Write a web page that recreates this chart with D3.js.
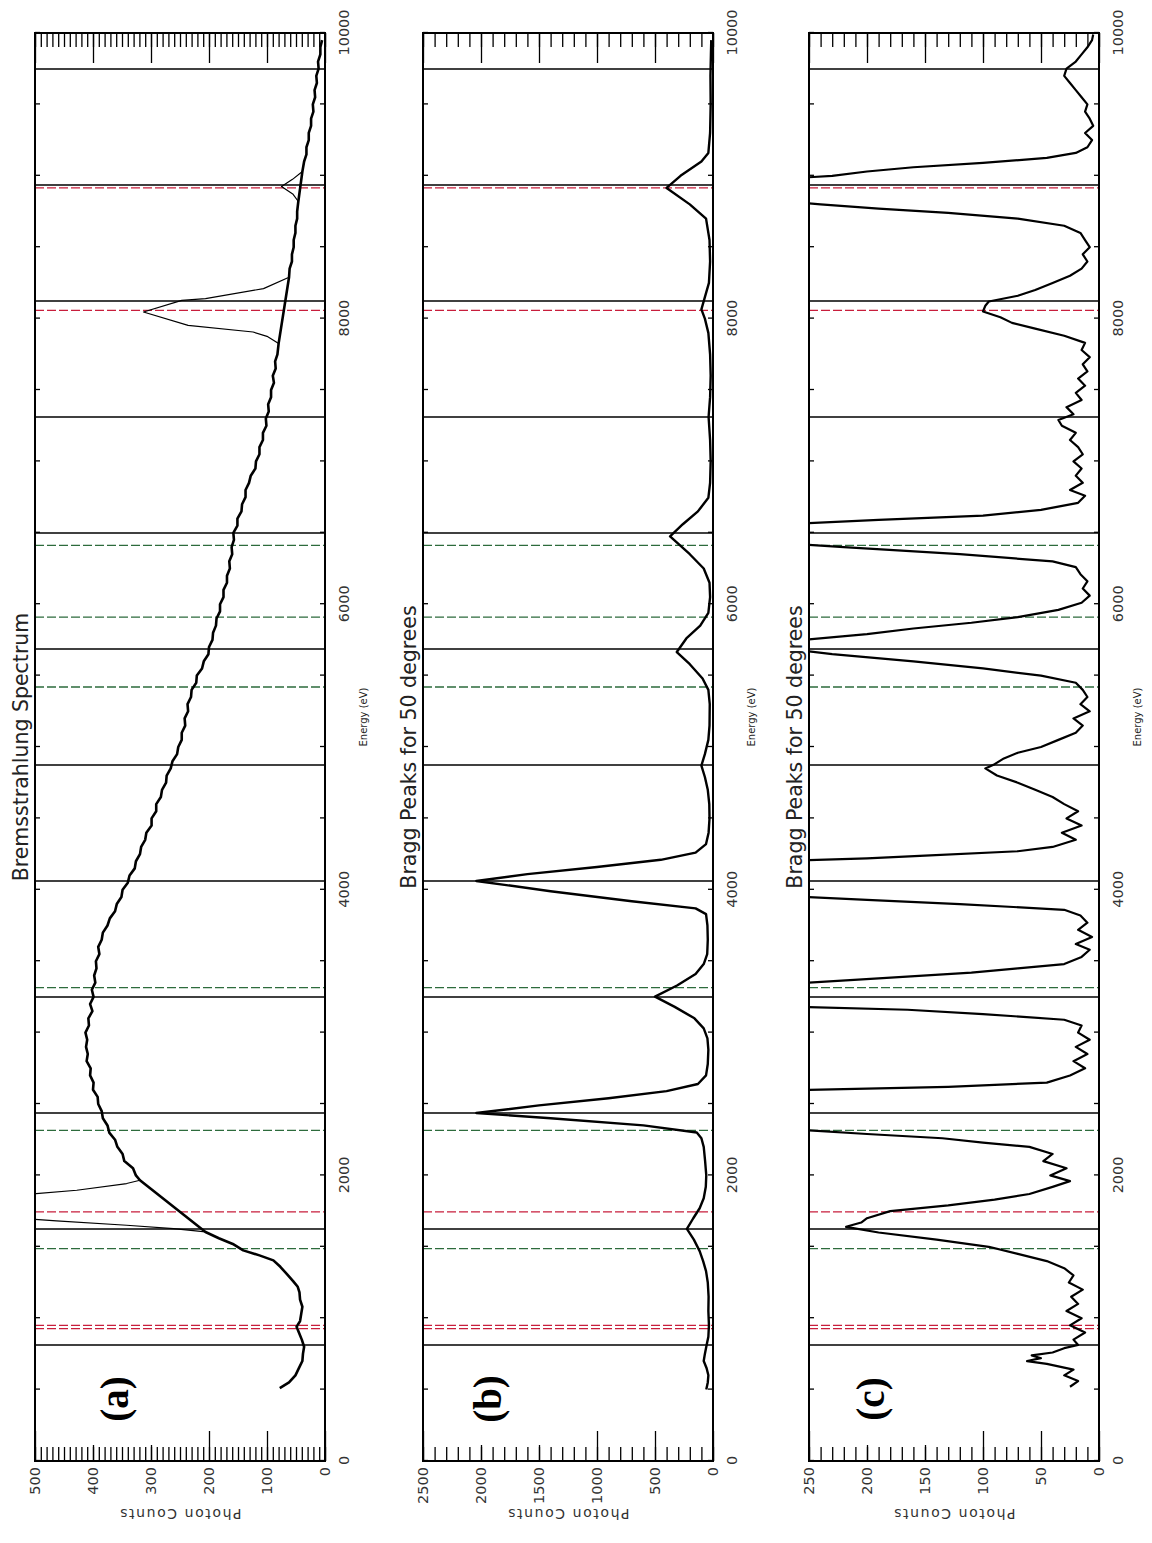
<!DOCTYPE html>
<html>
<head>
<meta charset="utf-8">
<script src="https://cdn.jsdelivr.net/npm/d3@7"></script>
<style>
body { margin: 0; background: #fff; }
svg { display: block; }
</style>
</head>
<body>
<svg id="chart" width="1152" height="1543"></svg>
<script>
// energy axis (eV)
var energyLabelTicks = [0, 2000, 4000, 6000, 8000, 10000];
var energyMinorTicks = d3.range(0, 10001, 500);

// photon count ticks for each panel
var countTicksA = [0, 100, 200, 300, 400, 500];
var countTicksB = [0, 500, 1000, 1500, 2000, 2500];
var countTicksC = [0, 50, 100, 150, 200, 250];

// marker lines (eV)
var braggLines = [812, 1625, 2437, 3249, 4062, 4874, 5686, 6498, 7311, 8123, 8935, 9748];
var greenLines = [1487, 2316, 3315, 5420, 5910, 6412];
var redLines = [927, 950, 1744, 8058, 8915];

// (a) bremsstrahlung continuum [eV, counts]
var bremsCont = [[510,78],[550,62],[600,51],[650,45],[700,39],[750,38],[800,36],[850,40],[900,45],[940,49],[980,43],[1030,41],[1080,39],[1130,43],[1180,44],[1220,47],[1260,55],[1310,66],[1360,77],[1405,89],[1440,113],[1475,141],[1520,159],[1560,183],[1604,206],[1966,319],[2000,326],[2050,331],[2100,346],[2150,349],[2200,358],[2250,362],[2300,372],[2350,375],[2400,383],[2450,385],[2500,391],[2550,392],[2600,400],[2650,399],[2700,405],[2750,404],[2800,411],[2850,409],[2900,412],[2950,410],[3000,413],[3050,407],[3100,408],[3150,401],[3200,405],[3250,399],[3300,402],[3350,396],[3400,398],[3450,394],[3500,395],[3550,389],[3600,391],[3650,385],[3700,383],[3750,375],[3800,371],[3850,362],[3900,359],[3950,351],[4000,349],[4050,340],[4100,337],[4150,328],[4200,326],[4250,319],[4300,317],[4350,310],[4400,308],[4450,299],[4500,299],[4550,291],[4600,291],[4650,283],[4700,281],[4750,274],[4800,273],[4850,266],[4900,263],[4950,255],[5000,253],[5050,247],[5100,247],[5150,241],[5200,242],[5250,236],[5300,237],[5350,231],[5400,230],[5450,222],[5500,221],[5550,212],[5600,209],[5650,201],[5700,200],[5750,194],[5800,193],[5850,188],[5900,187],[5950,181],[6000,181],[6050,175],[6100,175],[6150,169],[6200,169],[6250,164],[6300,165],[6350,160],[6400,161],[6450,157],[6500,158],[6550,151],[6600,151],[6650,144],[6700,143],[6750,137],[6800,137],[6850,131],[6900,128],[6950,120],[7000,119],[7050,113],[7100,113],[7150,107],[7200,107],[7250,101],[7300,102],[7350,97],[7400,98],[7450,93],[7500,93],[7550,88],[7600,90],[7650,85],[7700,86],[7750,82],[7825,80],[8290,62],[8350,61],[8400,57],[8450,57],[8500,54],[8550,54],[8600,51],[8650,51],[8700,48],[8750,48],[8820,46],[9030,39],[9100,36],[9150,32],[9200,32],[9250,28],[9300,28],[9350,24],[9400,24],[9450,20],[9500,21],[9550,17],[9600,18],[9650,14],[9700,15],[9750,11],[9800,12],[9850,8],[9900,8],[9950,5]];

// (a) characteristic peaks on top of the continuum
var peakSi = [[1604,206],[1627,261],[1651,342],[1681,463],[1782,820],[1873,498],[1896,428],[1943,342],[1966,319]];
var peakCuKa = [[7825,80],[7876,100],[7906,124],[7953,236],[8046,313],[8128,247],[8140,206],[8210,106],[8290,62]];
var peakCuKb = [[8820,46],[8870,55],[8925,75],[8975,56],[9030,39]];

// (b) Bragg peaks, counts
var braggB = [[500,58],[550,45],[600,40],[650,55],[700,80],[750,70],[812,55],[870,40],[950,35],[1050,40],[1150,38],[1250,45],[1330,60],[1400,85],[1470,115],[1550,165],[1625,225],[1700,170],[1770,115],[1840,80],[1920,62],[2000,58],[2100,68],[2200,80],[2260,100],[2300,140],[2350,600],[2400,1400],[2437,2040],[2490,1500],[2540,900],[2590,400],[2640,130],[2700,60],[2780,45],[2880,40],[2960,48],[3030,80],[3100,160],[3180,330],[3252,500],[3330,310],[3410,150],[3480,80],[3550,50],[3650,45],[3750,48],[3830,60],[3870,150],[3920,700],[3990,1400],[4062,2040],[4110,1600],[4160,1000],[4210,450],[4260,150],[4320,60],[4400,38],[4500,30],[4600,32],[4700,45],[4790,70],[4870,100],[4950,70],[5050,40],[5150,30],[5300,28],[5400,40],[5480,90],[5580,200],[5665,312],[5760,230],[5850,110],[5940,40],[6050,25],[6150,30],[6250,80],[6350,200],[6475,370],[6560,260],[6650,130],[6745,40],[6850,25],[7000,20],[7150,25],[7311,38],[7450,25],[7600,20],[7750,25],[7900,40],[8000,70],[8065,100],[8150,70],[8250,35],[8400,25],[8550,30],[8700,60],[8800,200],[8915,400],[9000,280],[9100,100],[9160,40],[9300,25],[9500,20],[9700,22],[9850,18],[9950,15]];

// (c) Bragg peaks, low count run
var braggC = [[520,25],[560,18],[600,30],[640,22],[680,45],[700,62],[720,50],[740,58],[760,40],[790,30],[812,18],[850,22],[900,12],[950,25],[1000,15],[1050,28],[1100,18],[1150,24],[1200,14],[1250,26],[1300,22],[1350,30],[1400,45],[1450,70],[1500,95],[1550,140],[1600,190],[1640,218],[1670,205],[1700,200],[1750,180],[1790,130],[1830,90],[1870,60],[1920,40],[1960,25],[2000,42],[2050,28],[2100,48],[2150,40],[2200,60],[2230,100],[2260,135],[2290,200],[2320,260],[2350,600],[2437,900],[2560,700],[2600,240],[2620,130],[2650,45],[2700,25],[2750,12],[2800,22],[2850,10],[2900,20],[2950,8],[3000,18],[3050,15],[3090,30],[3130,100],[3160,165],[3180,260],[3250,600],[3340,270],[3380,190],[3420,110],[3450,70],[3480,30],[3530,15],[3580,8],[3620,20],[3670,6],[3720,18],[3770,10],[3820,16],[3860,30],[3900,120],[3930,200],[3960,280],[4062,600],[4200,280],[4220,200],[4240,150],[4270,70],[4300,40],[4350,20],[4400,32],[4450,15],[4500,28],[4550,18],[4600,30],[4650,40],[4700,55],[4750,70],[4800,88],[4850,98],[4880,90],[4920,82],[4960,70],[5000,50],[5050,35],[5100,20],[5150,14],[5200,22],[5250,8],[5300,16],[5350,10],[5400,14],[5450,20],[5500,50],[5550,100],[5600,160],[5650,230],[5690,270],[5740,270],[5790,200],[5830,160],[5870,110],[5910,70],[5960,35],[6010,15],[6060,8],[6110,14],[6160,10],[6210,16],[6260,20],[6300,40],[6350,120],[6400,220],[6430,280],[6500,600],[6560,270],[6590,190],[6620,100],[6660,50],[6710,18],[6760,12],[6800,25],[6850,14],[6900,20],[6950,15],[7000,22],[7050,14],[7100,18],[7150,25],[7200,20],[7250,32],[7290,35],[7330,22],[7380,28],[7430,15],[7480,20],[7530,12],[7580,18],[7630,10],[7680,14],[7730,8],[7780,15],[7830,12],[7880,30],[7930,55],[7970,75],[8010,85],[8050,100],[8090,98],[8120,95],[8160,70],[8200,55],[8250,40],[8300,25],[8350,15],[8400,10],[8450,14],[8500,8],[8550,12],[8600,16],[8650,30],[8700,70],[8740,130],[8770,190],[8800,240],[8830,280],[8935,600],[8975,280],[9000,230],[9030,200],[9060,160],[9090,100],[9125,45],[9160,20],[9200,10],[9250,6],[9300,12],[9350,5],[9400,8],[9450,12],[9500,10],[9550,15],[9600,20],[9650,25],[9700,30],[9750,28],[9800,20],[9850,15],[9900,10],[9950,6],[9990,5]];

var W = 1152, H = 1543;
var svg = d3.select("#chart");

// the whole figure is drawn landscape and turned a quarter turn
var g = svg.append("g").attr("transform", "translate(0," + H + ") rotate(-90)");

var x = d3.scaleLinear().domain([0, 10000]).range([82, 1510]);
var xMid = (x.range()[0] + x.range()[1]) / 2;

var panels = [
  {top: 35,  bottom: 325,  ticks: countTicksA, minor: 10,  title: "Bremsstrahlung Spectrum",
   tag: "(a)", tagY: 128, series: [bremsCont, peakSi, peakCuKa, peakCuKb], widths: [2.6, 1.2, 1.2, 1.2]},
  {top: 423, bottom: 713,  ticks: countTicksB, minor: 100, title: "Bragg Peaks for 50 degrees",
   tag: "(b)", tagY: 501, series: [braggB], widths: [2.4]},
  {top: 809, bottom: 1099, ticks: countTicksC, minor: 10,  title: "Bragg Peaks for 50 degrees",
   tag: "(c)", tagY: 884, series: [braggC], widths: [2.2]}
];

var font = "'DejaVu Sans', sans-serif";

function styleAxis(sel) {
  sel.select(".domain").remove();
  sel.selectAll("line").attr("stroke", "#000").attr("stroke-width", 1.3);
  sel.selectAll("text").attr("font-family", font).attr("font-size", 14.5).attr("fill", "#333");
}

panels.forEach(function(p, i) {
  var cmax = p.ticks[p.ticks.length - 1];
  var y = d3.scaleLinear().domain([0, cmax]).range([p.bottom, p.top]);
  var pg = g.append("g");

  pg.append("clipPath").attr("id", "clip" + i)
    .append("rect")
      .attr("x", x(0)).attr("y", p.top)
      .attr("width", x(10000) - x(0)).attr("height", p.bottom - p.top);

  // solid Bragg order lines
  pg.selectAll(".bragg").data(braggLines).enter().append("line")
      .attr("x1", function(d) { return x(d); }).attr("x2", function(d) { return x(d); })
      .attr("y1", p.top).attr("y2", p.bottom)
      .attr("stroke", "#000").attr("stroke-width", 1.5);

  // element lines
  pg.selectAll(".green").data(greenLines).enter().append("line")
      .attr("x1", function(d) { return x(d); }).attr("x2", function(d) { return x(d); })
      .attr("y1", p.top).attr("y2", p.bottom)
      .attr("stroke", "#2d6b3c").attr("stroke-width", 1.3).attr("stroke-dasharray", "9,3");
  pg.selectAll(".red").data(redLines).enter().append("line")
      .attr("x1", function(d) { return x(d); }).attr("x2", function(d) { return x(d); })
      .attr("y1", p.top).attr("y2", p.bottom)
      .attr("stroke", "#c81e3c").attr("stroke-width", 1.3).attr("stroke-dasharray", "9,3");

  var line = d3.line()
      .x(function(d) { return x(d[0]); })
      .y(function(d) { return y(d[1]); });

  p.series.forEach(function(s, k) {
    pg.append("path")
        .datum(s)
        .attr("clip-path", "url(#clip" + i + ")")
        .attr("fill", "none")
        .attr("stroke", "#000")
        .attr("stroke-width", p.widths[k])
        .attr("stroke-linejoin", "round")
        .attr("d", line);
  });

  // energy ticks on both long edges
  pg.append("g").attr("transform", "translate(0," + p.bottom + ")")
      .call(d3.axisBottom(x).tickValues(energyMinorTicks).tickSize(-5).tickFormat(""))
      .call(styleAxis);
  pg.append("g").attr("transform", "translate(0," + p.top + ")")
      .call(d3.axisTop(x).tickValues(energyMinorTicks).tickSize(-5).tickFormat(""))
      .call(styleAxis);
  pg.append("g").attr("transform", "translate(0," + p.bottom + ")")
      .call(d3.axisBottom(x).tickValues(energyLabelTicks).tickSize(0).tickPadding(14)
            .tickFormat(d3.format("d")))
      .call(styleAxis);

  // count ticks on both short edges
  var minors = d3.range(0, cmax + 0.001, p.minor);
  [[d3.axisLeft, x(0)], [d3.axisRight, x(10000)]].forEach(function(a, j) {
    pg.append("g").attr("transform", "translate(" + a[1] + ",0)")
        .call(a[0](y).tickValues(minors).tickSize(-14).tickFormat(""))
        .call(styleAxis);
    pg.append("g").attr("transform", "translate(" + a[1] + ",0)")
        .call(a[0](y).tickValues(p.ticks).tickSize(-30).tickPadding(6)
              .tickFormat(j === 0 ? d3.format("d") : ""))
        .call(styleAxis);
  });

  // panel tag sits on a white patch that hides the upper long ticks
  pg.append("rect")
      .attr("x", 98).attr("y", p.top + 6)
      .attr("width", 87).attr("height", 134)
      .attr("fill", "#fff");
  pg.append("text")
      .attr("x", 144).attr("y", p.tagY)
      .attr("text-anchor", "middle")
      .attr("font-family", "'Liberation Serif', 'Times New Roman', serif")
      .attr("font-weight", "bold")
      .attr("font-size", 39)
      .text(p.tag);

  // frame
  pg.append("rect")
      .attr("x", x(0)).attr("y", p.top)
      .attr("width", x(10000) - x(0)).attr("height", p.bottom - p.top)
      .attr("fill", "none").attr("stroke", "#000").attr("stroke-width", 2);

  // titles
  pg.append("text")
      .attr("x", xMid).attr("y", p.top - 7)
      .attr("text-anchor", "middle")
      .attr("font-family", font).attr("font-size", 20.5).attr("fill", "#222")
      .text(p.title);

  pg.append("text")
      .attr("x", xMid + 30).attr("y", p.bottom + 42)
      .attr("text-anchor", "middle")
      .attr("font-family", font).attr("font-size", 10).attr("fill", "#222")
      .text("Energy (eV)");

  pg.append("text")
      .attr("transform", "translate(34," + ((p.top + p.bottom) / 2) + ") rotate(-90)")
      .attr("text-anchor", "middle")
      .attr("font-family", font).attr("font-size", 14).attr("letter-spacing", 1.6)
      .attr("fill", "#333")
      .text("Photon Counts");
});
</script>
</body>
</html>
